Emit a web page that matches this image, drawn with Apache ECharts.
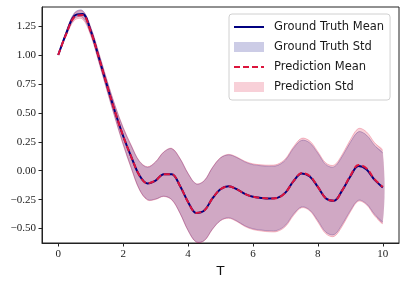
<!DOCTYPE html>
<html><head><meta charset="utf-8">
<script src="https://cdn.jsdelivr.net/npm/echarts@6/dist/echarts.min.js"></script>
<style>html,body{margin:0;padding:0;background:#fff}#c{width:406px;height:285px}</style>
</head><body><div id="c"></div>
<script>
const xs = [0,0.25,0.5,0.75,1,1.25,1.5,1.75,2,2.25,2.5,2.75,3,3.25,3.5,3.75,4,4.25,4.5,4.75,5,5.25,5.5,5.75,6,6.25,6.5,6.75,7,7.25,7.5,7.75,8,8.25,8.5,8.75,9,9.25,9.5,9.75,10];
const gtMean = [1.00,1.19,1.34,1.355,1.21,0.98,0.74,0.51,0.30,0.12,-0.04,-0.11,-0.085,-0.03,-0.03,-0.13,-0.27,-0.365,-0.345,-0.24,-0.16,-0.135,-0.16,-0.20,-0.225,-0.235,-0.24,-0.235,-0.19,-0.09,-0.025,-0.05,-0.14,-0.24,-0.26,-0.17,-0.05,0.04,0.01,-0.08,-0.145];
const predMean = [1.00,1.185,1.33,1.345,1.205,0.98,0.74,0.51,0.30,0.12,-0.04,-0.11,-0.085,-0.03,-0.03,-0.13,-0.27,-0.365,-0.345,-0.24,-0.16,-0.135,-0.16,-0.20,-0.225,-0.235,-0.24,-0.235,-0.19,-0.09,-0.02,-0.045,-0.14,-0.24,-0.26,-0.17,-0.045,0.05,0.02,-0.075,-0.14];
const gtStd = [0.0,0.015,0.025,0.03,0.03,0.035,0.04,0.05,0.07,0.095,0.12,0.14,0.16,0.19,0.22,0.235,0.245,0.25,0.258,0.265,0.27,0.272,0.274,0.276,0.277,0.278,0.279,0.28,0.282,0.285,0.288,0.29,0.291,0.292,0.293,0.294,0.295,0.296,0.297,0.298,0.298];
const predStd = [0.0,0.018,0.03,0.035,0.035,0.04,0.045,0.055,0.075,0.1,0.124,0.144,0.163,0.193,0.223,0.238,0.248,0.253,0.261,0.268,0.273,0.276,0.279,0.282,0.284,0.286,0.288,0.29,0.293,0.297,0.3,0.302,0.304,0.306,0.308,0.31,0.312,0.314,0.315,0.316,0.316];
const xTicks = [0,2,4,6,8,10];
const yTicks = [-0.5,-0.25,0,0.25,0.5,0.75,1.0,1.25];
const names = ['Ground Truth Mean','Ground Truth Std','Prediction Mean','Prediction Std'];

function bandData(mean, std){ return xs.map((x,i)=>[x, mean[i]-std[i], mean[i]+std[i]]); }
function bandSeries(name, data, fill, edge){
  return {
    type:'custom', name, data, encode:{x:0,y:[1,2]}, z:1, silent:true,
    renderItem(params, api){
      if(params.dataIndex!==0) return null;
      const up = data.map(d=>api.coord([d[0],d[2]]));
      const lo = data.map(d=>api.coord([d[0],d[1]])).reverse();
      const upC = {type:'polyline', shape:{points:up, smooth:0.35}, style:{fill:null, stroke:edge, lineWidth:1}};
      const loC = {type:'polyline', shape:{points:lo, smooth:0.35}, style:{fill:null, stroke:edge, lineWidth:1}};
      const poly = {type:'polygon', shape:{points:up.concat(lo), smooth:0.35}, style:{fill:fill, stroke:null}};
      return {type:'group', children:[poly, upC, loC]};
    }
  };
}
const fmtMinus = v => String(v).replace('-', '\u2212');
const axLine = {show:true, onZero:false, lineStyle:{color:'#222', width:1}};
const chart = echarts.init(document.getElementById('c'), null, {renderer:'canvas'});
chart.setOption({
  animation:false,
  grid:{left:42, right:7, top:7, bottom:42, show:true, borderColor:'#222', borderWidth:1, backgroundColor:'transparent'},
  xAxis:{type:'value', min:-0.5, max:10.5, name:'T', nameLocation:'middle', nameGap:20,
    nameTextStyle:{fontFamily:'DejaVu Sans', fontSize:13, color:'#111'},
    axisLine:axLine, splitLine:{show:false},
    axisTick:{show:true, inside:false, length:3.5, lineStyle:{color:'#222'}, customValues:xTicks},
    axisLabel:{fontFamily:'Liberation Serif', fontSize:11, color:'#222', margin:6, customValues:xTicks, formatter:v=>fmtMinus(v)}},
  yAxis:{type:'value', min:-0.625, max:1.415,
    axisLine:axLine, splitLine:{show:false},
    axisTick:{show:true, inside:false, length:3.5, lineStyle:{color:'#222'}, customValues:yTicks},
    axisLabel:{fontFamily:'Liberation Serif', fontSize:11, color:'#222', margin:6, customValues:yTicks, formatter:v=>fmtMinus(v.toFixed(2))}},
  legend:{orient:'vertical', left:229, top:14, padding:[7,6,7,4], itemGap:8, itemWidth:30, itemHeight:10,
    backgroundColor:'rgba(255,255,255,0.8)', borderColor:'#d0d0d0', borderWidth:1, borderRadius:3,
    textStyle:{fontFamily:'DejaVu Sans', fontSize:11.5, color:'#1a1a1a', padding:[0,0,0,5]},
    data:[
      {name:names[0], itemStyle:{opacity:0}},
      {name:names[1], icon:'rect', itemStyle:{color:'rgba(0,0,128,0.2)'}},
      {name:names[2], itemStyle:{opacity:0}},
      {name:names[3], icon:'rect', itemStyle:{color:'rgba(220,20,60,0.2)'}}
    ]},
  series:[
    bandSeries(names[1], bandData(gtMean, gtStd), 'rgba(0,0,128,0.2)', 'rgba(0,0,128,0.25)'),
    bandSeries(names[3], bandData(predMean, predStd), 'rgba(220,20,60,0.2)', 'rgba(220,20,60,0.25)'),
    {type:'line', name:names[0], data:xs.map((x,i)=>[x,gtMean[i]]), smooth:0.35, symbol:'none', z:3,
      lineStyle:{color:'#000080', width:2}, itemStyle:{color:'#000080'}},
    {type:'line', name:names[2], data:xs.map((x,i)=>[x,predMean[i]]), smooth:0.35, symbol:'none', z:4,
      lineStyle:{color:'#dc143c', width:2, type:[6,3]}, itemStyle:{color:'#dc143c'}}
  ]
});
</script></body></html>
